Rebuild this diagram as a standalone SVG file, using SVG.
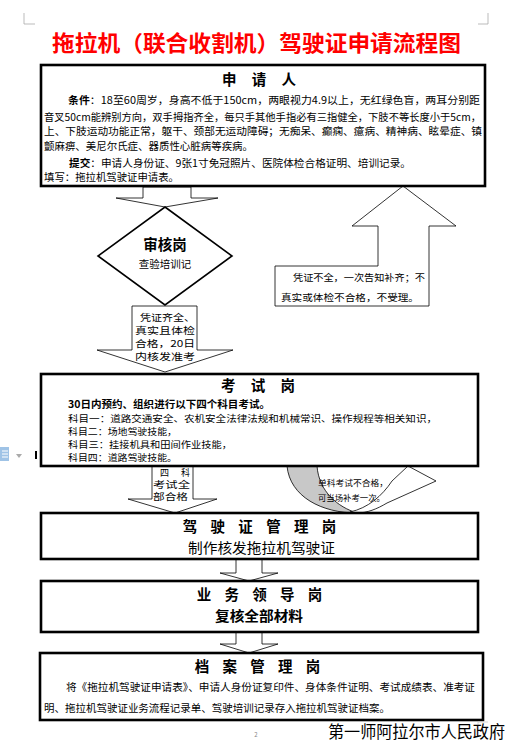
<svg xmlns="http://www.w3.org/2000/svg" width="513" height="745" viewBox="0 0 513 745">
<style>
.box{fill:#fff;stroke:#000;stroke-width:2.6}
.arr{fill:#fff;stroke:#000;stroke-width:0.8}
.t{font-family:"Noto Sans CJK SC","Liberation Sans",sans-serif;fill:#000}
.h{font-weight:bold;font-size:14.5px;text-anchor:middle}
.b{font-size:10.5px}
.e{font-size:9px}
.s{font-size:9.5px}
.bold{font-weight:bold}
</style>
<rect width="513" height="745" fill="#fff"/>
<path d="M24,13 V24 H35 M488,13 V24 H478" fill="none" stroke="#aaa" stroke-width="0.8"/>
<text class="t bold" x="52" y="51" font-size="22" fill="#ff0000" style="fill:#ff0000" textLength="409" lengthAdjust="spacingAndGlyphs">拖拉机（联合收割机）驾驶证申请流程图</text>

<g id="connectors">
  <polygon class="arr" points="143,187 191,187 191,198 218,198 165,207 116,198 143,198"/>
  <polygon class="arr" points="132,306 197,306 197,350 233,350 165,372 97,350 132,350"/>
  <polygon class="arr" points="403,186 456,226 429,226 429,306 275,306 275,266 378,266 378,226 352,226"/>
  <polygon class="arr" points="152,466 193,466 193,499 217,499 175,513 128,499 152,499"/>
  <path d="M287,466 C290,497 322,513 357,513 C338,507 319,492 317,466 Z" fill="#c8c8c8" stroke="#000" stroke-width="0.8"/>
  <path d="M350,512 C368,508 382,496 392,481 L408,466 L436,481 L387,503 C377,509 367,513 357,513 Z" fill="#fff" stroke="#000" stroke-width="0.8"/>
  <polygon class="arr" points="236,559 262,559 262,573 278,573 249,581 220,573 236,573"/>
  <polygon class="arr" points="236,632 262,632 262,644 278,644 249,653 220,644 236,644"/>
</g>

<g id="apply">
  <rect class="box" x="41" y="65" width="444" height="121"/>
  <text class="t h" x="262" y="85" letter-spacing="6">申 请 人</text>
  <text class="t b" x="68" y="104" textLength="412" lengthAdjust="spacingAndGlyphs"><tspan font-weight="bold">条件</tspan>：18至60周岁，身高不低于150cm，两眼视力4.9以上，无红绿色盲，两耳分别距</text>
  <text class="t b" x="44" y="121" textLength="437" lengthAdjust="spacingAndGlyphs">音叉50cm能辨别方向，双手拇指齐全，每只手其他手指必有三指健全，下肢不等长度小于5cm，</text>
  <text class="t b" x="44" y="135" textLength="438" lengthAdjust="spacingAndGlyphs">上、下肢运动功能正常，躯干、颈部无运动障碍；无痴呆、癫痫、癔病、精神病、眩晕症、镇</text>
  <text class="t b" x="44" y="150" textLength="209" lengthAdjust="spacingAndGlyphs">颤麻痹、美尼尔氏症、器质性心脏病等疾病。</text>
  <text class="t b" x="69" y="167" textLength="342" lengthAdjust="spacingAndGlyphs"><tspan font-weight="bold">提交</tspan>：申请人身份证、9张1寸免冠照片、医院体检合格证明、培训记录。</text>
  <text class="t b" x="44" y="181" textLength="135" lengthAdjust="spacingAndGlyphs">填写：拖拉机驾驶证申请表。</text>
</g>

<g id="review">
  <polygon points="165,207 232,256 165,305 98,256" fill="#fff" stroke="#000" stroke-width="1.6"/>
  <text class="t h" x="165" y="250" font-size="15">审核岗</text>
  <text class="t b" x="165" y="268" text-anchor="middle">查验培训记</text>
</g>

<g id="pass-label">
  <text class="t s" x="140" y="321" textLength="55" lengthAdjust="spacingAndGlyphs">凭证齐全、</text>
  <text class="t s" x="135" y="334" textLength="60" lengthAdjust="spacingAndGlyphs">真实且体检</text>
  <text class="t s" x="135" y="347" textLength="60" lengthAdjust="spacingAndGlyphs">合格，20日</text>
  <text class="t s" x="135" y="360" textLength="60" lengthAdjust="spacingAndGlyphs">内核发准考</text>
</g>

<g id="reject-label">
  <text class="t s" x="293" y="281" textLength="132" lengthAdjust="spacingAndGlyphs">凭证不全，一次告知补齐；不</text>
  <text class="t s" x="281" y="301" textLength="138" lengthAdjust="spacingAndGlyphs">真实或体检不合格，不受理。</text>
</g>

<g id="exam">
  <rect class="box" x="41" y="374" width="437" height="92"/>
  <text class="t h" x="261" y="391" letter-spacing="6">考 试 岗</text>
  <text class="t bold" font-size="10" x="68" y="408" textLength="202" lengthAdjust="spacingAndGlyphs">30日内预约、组织进行以下四个科目考试。</text>
  <text class="t e" x="68" y="422" textLength="369" lengthAdjust="spacingAndGlyphs">科目一：道路交通安全、农机安全法律法规和机械常识、操作规程等相关知识，</text>
  <text class="t e" x="68" y="435" textLength="109" lengthAdjust="spacingAndGlyphs">科目二：场地驾驶技能，</text>
  <text class="t e" x="68" y="448" textLength="164" lengthAdjust="spacingAndGlyphs">科目三：挂接机具和田间作业技能，</text>
  <text class="t e" x="68" y="461" textLength="109" lengthAdjust="spacingAndGlyphs">科目四：道路驾驶技能。</text>
</g>

<g id="exam-pass-label">
  <text class="t" font-size="9" x="160" y="476" textLength="30" lengthAdjust="spacing">四　科</text>
  <text class="t" font-size="9" x="153" y="488" textLength="37" lengthAdjust="spacingAndGlyphs">考试全</text>
  <text class="t" font-size="9" x="153" y="500" textLength="35" lengthAdjust="spacingAndGlyphs">部合格</text>
</g>

<g id="exam-retry-label">
  <text class="t" font-size="8.5" x="318" y="486" textLength="70" lengthAdjust="spacingAndGlyphs">单科考试不合格，</text>
  <text class="t" font-size="8.5" x="318" y="501" textLength="67" lengthAdjust="spacingAndGlyphs">可当场补考一次。</text>
</g>

<g id="license">
  <rect class="box" x="41" y="513" width="437" height="46"/>
  <text class="t h" x="262" y="532" letter-spacing="5">驾 驶 证 管 理 岗</text>
  <text class="t" font-size="14" x="188" y="553" textLength="147" lengthAdjust="spacingAndGlyphs">制作核发拖拉机驾驶证</text>
</g>

<g id="leader">
  <rect class="box" x="41" y="581" width="437" height="51"/>
  <text class="t h" x="262" y="600" letter-spacing="5">业 务 领 导 岗</text>
  <text class="t bold" font-size="14" x="215" y="621" textLength="88" lengthAdjust="spacingAndGlyphs">复核全部材料</text>
</g>

<g id="archive">
  <rect class="box" x="40" y="653" width="443" height="67"/>
  <text class="t h" x="260" y="672" letter-spacing="5">档 案 管 理 岗</text>
  <text class="t b" x="66" y="691" textLength="409" lengthAdjust="spacingAndGlyphs">将《拖拉机驾驶证申请表》、申请人身份证复印件、身体条件证明、考试成绩表、准考证</text>
  <text class="t b" x="44" y="712" textLength="346" lengthAdjust="spacingAndGlyphs">明、拖拉机驾驶证业务流程记录单、驾驶培训记录存入拖拉机驾驶证档案。</text>
</g>

<path d="M478,722 V729 M478,722 H488" fill="none" stroke="#ccc" stroke-width="0.8"/>
<text class="t" font-size="6" x="256" y="737" fill="#888" style="fill:#888" text-anchor="middle">2</text>
<text class="t" font-size="16.5" x="328" y="738" textLength="177" lengthAdjust="spacingAndGlyphs">第一师阿拉尔市人民政府</text>

<rect x="0" y="447" width="9" height="14" fill="#9fc3e6"/>
<path d="M2,451 H8 M2,454 H8 M2,457 H8" stroke="#fff" stroke-width="1"/>
<polygon points="16,454 22,454 19,458" fill="#aaa"/>
<rect x="35" y="451" width="2" height="8" fill="#000"/>
</svg>
